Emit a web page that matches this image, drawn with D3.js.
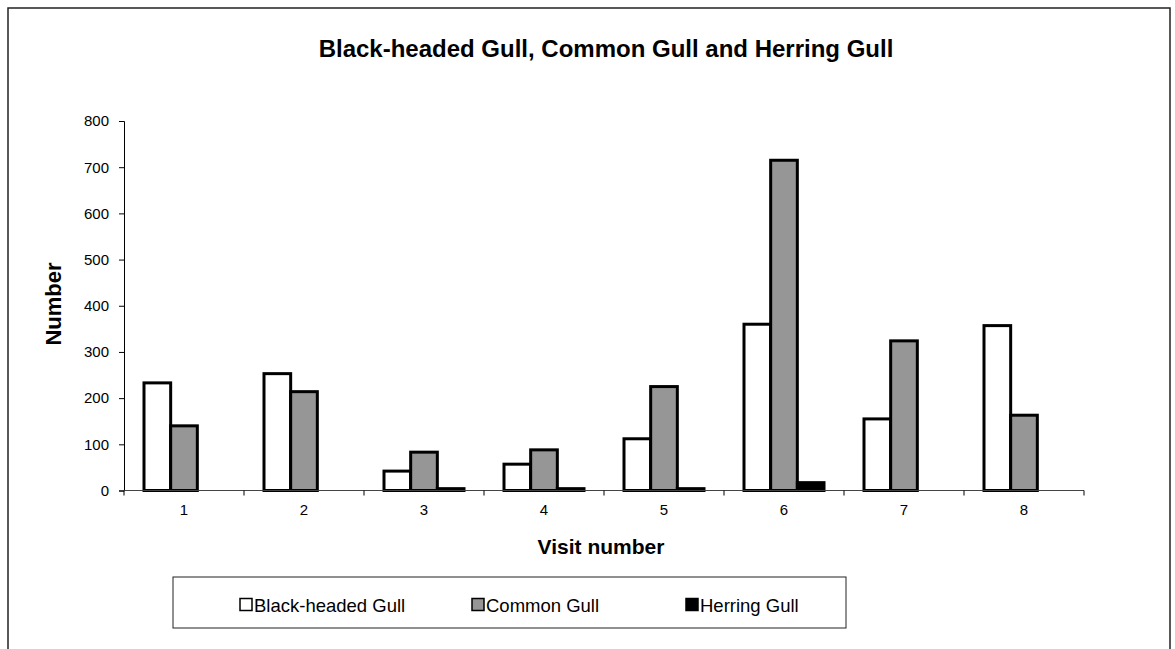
<!DOCTYPE html>
<html>
<head>
<meta charset="utf-8">
<script src="https://cdn.jsdelivr.net/npm/d3@7"></script>
<style>
  html, body { margin: 0; padding: 0; background: #fff; }
  svg { display: block; font-family: Arial, "Liberation Sans", sans-serif; }
</style>
</head>
<body>
<svg id="chart" width="1175" height="649"></svg>
<script>
// ---- data ----
const categories = ["1", "2", "3", "4", "5", "6", "7", "8"];
const seriesNames = ["Black-headed Gull", "Common Gull", "Herring Gull"];
const blackHeaded = [233, 253, 42, 57, 112, 360, 155, 357];
const commonGull = [140, 214, 83, 88, 225, 715, 324, 163];
const herringGull = [0, 0, 4, 4, 4, 17, 0, 0];
const yTicks = [0, 100, 200, 300, 400, 500, 600, 700, 800];
const seriesFills = ["#ffffff", "#969696", "#000000"];

const svg = d3.select("#chart");

// outer chart frame
svg.append("rect")
  .attr("x", 8).attr("y", 8).attr("width", 1162).attr("height", 700)
  .attr("fill", "none").attr("stroke", "#222").attr("stroke-width", 1.5);

const plot = { left: 124, right: 1084, top: 121, bottom: 490.5 };

const x0 = d3.scaleBand().domain(categories).range([plot.left, plot.right])
  .paddingInner(0).paddingOuter(0);
const x1 = d3.scaleBand().domain(seriesNames).range([20, x0.bandwidth() - 20]).padding(0);
const y = d3.scaleLinear().domain([0, 800]).range([plot.bottom, plot.top]);

// title
svg.append("text").attr("x", 606).attr("y", 57)
  .attr("text-anchor", "middle").attr("font-size", 24).attr("font-weight", "bold")
  .text("Black-headed Gull, Common Gull and Herring Gull");

// y axis
const yAxis = d3.axisLeft(y).tickValues(yTicks).tickSize(5).tickPadding(10);
const gy = svg.append("g").attr("transform", `translate(${plot.left},0)`).call(yAxis);
gy.select(".domain").attr("stroke", "#000").attr("stroke-width", 1);
gy.selectAll(".tick line").attr("stroke", "#000");
gy.selectAll("text").attr("font-size", 15).attr("fill", "#000")
  .attr("font-family", "Arial, 'Liberation Sans', sans-serif");

// bars
const seriesData = [blackHeaded, commonGull, herringGull];
const groups = svg.append("g");
seriesNames.forEach((name, si) => {
  groups.selectAll(null)
    .data(categories.map((c, i) => ({ c, v: seriesData[si][i] })).filter(d => d.v > 0))
    .enter().append("rect")
    .attr("x", d => x0(d.c) + x1(name))
    .attr("y", d => y(d.v))
    .attr("width", x1.bandwidth())
    .attr("height", d => y(0) - y(d.v))
    .attr("fill", seriesFills[si])
    .attr("stroke", "#000").attr("stroke-width", 3);
});

// x axis (drawn after bars)
const gx = svg.append("g").attr("transform", `translate(0,${plot.bottom})`);
gx.append("line").attr("x1", plot.left).attr("x2", plot.right)
  .attr("y1", 0).attr("y2", 0).attr("stroke", "#444").attr("stroke-width", 1);
const boundaries = categories.map(c => x0(c)).concat([plot.right]);
gx.selectAll(".bt").data(boundaries).enter().append("line")
  .attr("x1", d => d).attr("x2", d => d).attr("y1", 0).attr("y2", 5)
  .attr("stroke", "#000");
gx.selectAll(".lbl").data(categories).enter().append("text")
  .attr("x", d => x0(d) + x0.bandwidth() / 2).attr("y", 24)
  .attr("text-anchor", "middle").attr("font-size", 15).text(d => d);

// axis titles
svg.append("text").attr("x", 601).attr("y", 554)
  .attr("text-anchor", "middle").attr("font-size", 21).attr("font-weight", "bold")
  .text("Visit number");
svg.append("text")
  .attr("transform", "translate(61,304) rotate(-90)")
  .attr("text-anchor", "middle").attr("font-size", 22).attr("font-weight", "bold")
  .text("Number");

// legend
const leg = svg.append("g");
leg.append("rect").attr("x", 173).attr("y", 577).attr("width", 673).attr("height", 51)
  .attr("fill", "#fff").attr("stroke", "#222").attr("stroke-width", 1);
const legX = [240, 472, 686];
seriesNames.forEach((name, i) => {
  leg.append("rect").attr("x", legX[i]).attr("y", 598.5).attr("width", 12).attr("height", 12)
    .attr("fill", seriesFills[i]).attr("stroke", "#000").attr("stroke-width", 1.5);
  leg.append("text").attr("x", legX[i] + 14).attr("y", 612)
    .attr("font-size", 18.5).text(name);
});
</script>
</body>
</html>
